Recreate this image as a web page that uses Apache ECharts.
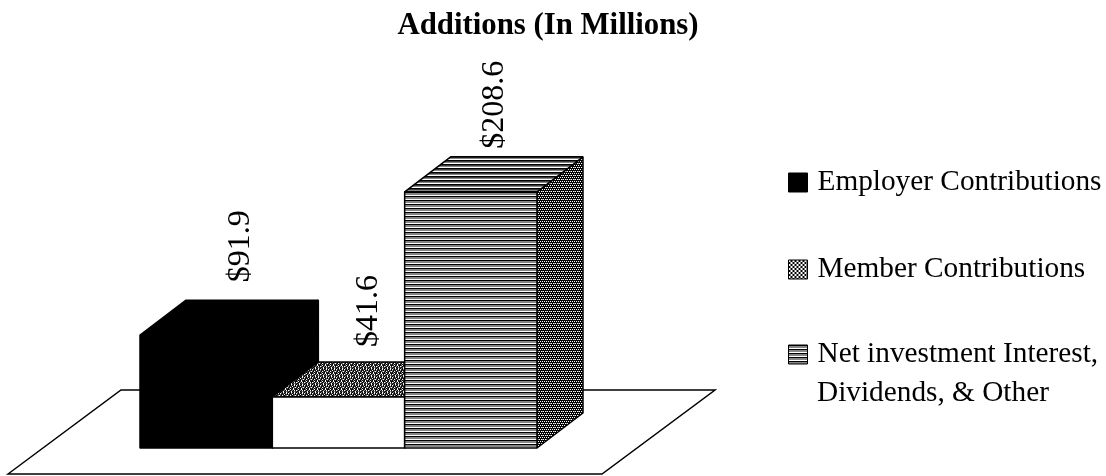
<!DOCTYPE html>
<html>
<head>
<meta charset="utf-8">
<style>
  html, body { margin: 0; padding: 0; background: #fff; }
  #chart { width: 1106px; height: 476px; }
</style>
<script src="https://cdn.jsdelivr.net/npm/echarts@6/dist/echarts.min.js"></script>
</head>
<body>
<div id="chart"></div>
<script>
const titleText = 'Additions (In Millions)';
const seriesNames = ['Employer Contributions', 'Member Contributions', 'Net investment Interest,\nDividends, & Other'];
const seriesValues = [91.9, 41.6, 208.6];
const valueLabels = ['$91.9', '$41.6', '$208.6'];

const FONT = '"Liberation Serif", "Times New Roman", serif';
const DEPTH_X = 46;
const DEPTH_Y = 35;
// label nudges from the bar centre and the back top edge
const labelDx = [34, 30, 24];
const labelDy = [18, 15, 8];

// tiny repeating bitmaps for the old print-style fills
function makePattern(rows, colors) {
  const canvas = document.createElement('canvas');
  canvas.width = rows[0].length;
  canvas.height = rows.length;
  const ctx = canvas.getContext('2d');
  rows.forEach((row, y) => {
    row.split('').forEach((c, x) => {
      ctx.fillStyle = colors[c];
      ctx.fillRect(x, y, 1, 1);
    });
  });
  return { image: canvas, repeat: 'repeat' };
}

const colors = { k: '#000000', g: '#858585', d: '#3c3c3c', w: '#ffffff' };
const stripes = makePattern(['kkkk', 'gggg', 'gggg', 'wwww'], colors);
const stripesTop = makePattern(['kkkk', 'dddd', 'gggg', 'wwww'], colors);
const stripesSide = makePattern(['kkkk', 'wkwk', 'kkkk', 'kwgw'], colors);
const stipple = makePattern([
  'kgkwdkwd',
  'wdkgkdwk',
  'gkdkwkdk',
  'dkwdkdgw',
  'kgkdkwkd',
  'kdwkdwdk',
  'wgkdgkwk',
  'dkdwkdgd'
], colors);
const checker = makePattern(['wwkk', 'wwkk', 'kkww', 'kkww'], colors);

// front, top, side fills per bar
const barFills = [
  { front: '#000', top: '#000', side: '#000' },
  { front: '#fff', top: stipple, side: stipple },
  { front: stripes, top: stripesTop, side: stripesSide }
];
const legendFills = ['#000', checker, stripes];
const legendTops = [163, 250, 335];

function renderBar(params, api) {
  const idx = api.value(0);
  const base = api.coord([idx, 0]);
  const top = api.coord([idx, api.value(1)]);
  const half = api.size([1, 0])[0] / 2;
  const l = base[0] - half;
  const r = base[0] + half;
  const fills = barFills[idx];
  const line = { stroke: '#000', lineWidth: 1.5, lineJoin: 'bevel' };
  return {
    type: 'group',
    children: [
      {
        type: 'polygon',
        shape: { points: [[r, top[1]], [r + DEPTH_X, top[1] - DEPTH_Y], [r + DEPTH_X, base[1] - DEPTH_Y], [r, base[1]]] },
        style: { fill: fills.side, ...line }
      },
      {
        type: 'polygon',
        shape: { points: [[l, top[1]], [l + DEPTH_X, top[1] - DEPTH_Y], [r + DEPTH_X, top[1] - DEPTH_Y], [r, top[1]]] },
        style: { fill: fills.top, ...line }
      },
      {
        type: 'rect',
        shape: { x: l, y: top[1], width: r - l, height: base[1] - top[1] },
        style: { fill: fills.front, ...line }
      },
      {
        type: 'text',
        x: base[0] + labelDx[idx],
        y: top[1] - DEPTH_Y - labelDy[idx],
        rotation: Math.PI / 2,
        style: {
          text: valueLabels[idx],
          fill: '#000',
          font: '32px ' + FONT,
          textAlign: 'left',
          textVerticalAlign: 'middle'
        }
      }
    ]
  };
}

// floor plane sits under the bars, offset from the plot rectangle
function renderFloor(params) {
  const rect = params.coordSys;
  const l = rect.x;
  const r = rect.x + rect.width;
  const b = rect.y + rect.height;
  return {
    type: 'polygon',
    shape: { points: [[l - 132, b + 26], [l - 19, b - 58], [r + 178, b - 58], [r + 65, b + 26]] },
    style: { fill: '#fff', stroke: '#000', lineWidth: 1.5 }
  };
}

const chart = echarts.init(document.getElementById('chart'));

chart.setOption({
  animation: false,
  backgroundColor: '#fff',
  title: {
    text: titleText,
    left: 543,
    top: 6,
    textAlign: 'center',
    textStyle: { fontFamily: FONT, fontSize: 30.8, fontWeight: 'bold', color: '#000' }
  },
  grid: { left: 140, width: 397, top: 141, height: 307 },
  xAxis: { type: 'category', data: seriesNames, show: false },
  yAxis: { type: 'value', min: 0, max: 250, show: false },
  legend: seriesNames.map((name, i) => ({
    left: 783,
    top: legendTops[i],
    itemWidth: 19,
    itemHeight: 19,
    selectedMode: false,
    formatter: (n) => n.split('\n')[0],
    textStyle: { fontFamily: FONT, fontSize: 29.3, color: '#000', padding: [0, 0, 0, 5] },
    data: [{ name, icon: 'rect', itemStyle: { color: legendFills[i], borderColor: '#000', borderWidth: 1 } }]
  })),
  graphic: [{
    type: 'text',
    left: 817,
    top: 379,
    style: {
      text: seriesNames[2].split('\n')[1],
      fill: '#000',
      font: '29.3px ' + FONT
    }
  }],
  series: [
    {
      type: 'custom',
      name: 'floor',
      renderItem: renderFloor,
      data: [[0, 0]],
      silent: true,
      z: 1
    },
    ...seriesNames.map((name, i) => ({
      type: 'custom',
      name,
      renderItem: renderBar,
      data: [[i, seriesValues[i]]],
      encode: { x: 0, y: 1 },
      clip: false,
      z: 2 + i
    }))
  ]
});
</script>
</body>
</html>
